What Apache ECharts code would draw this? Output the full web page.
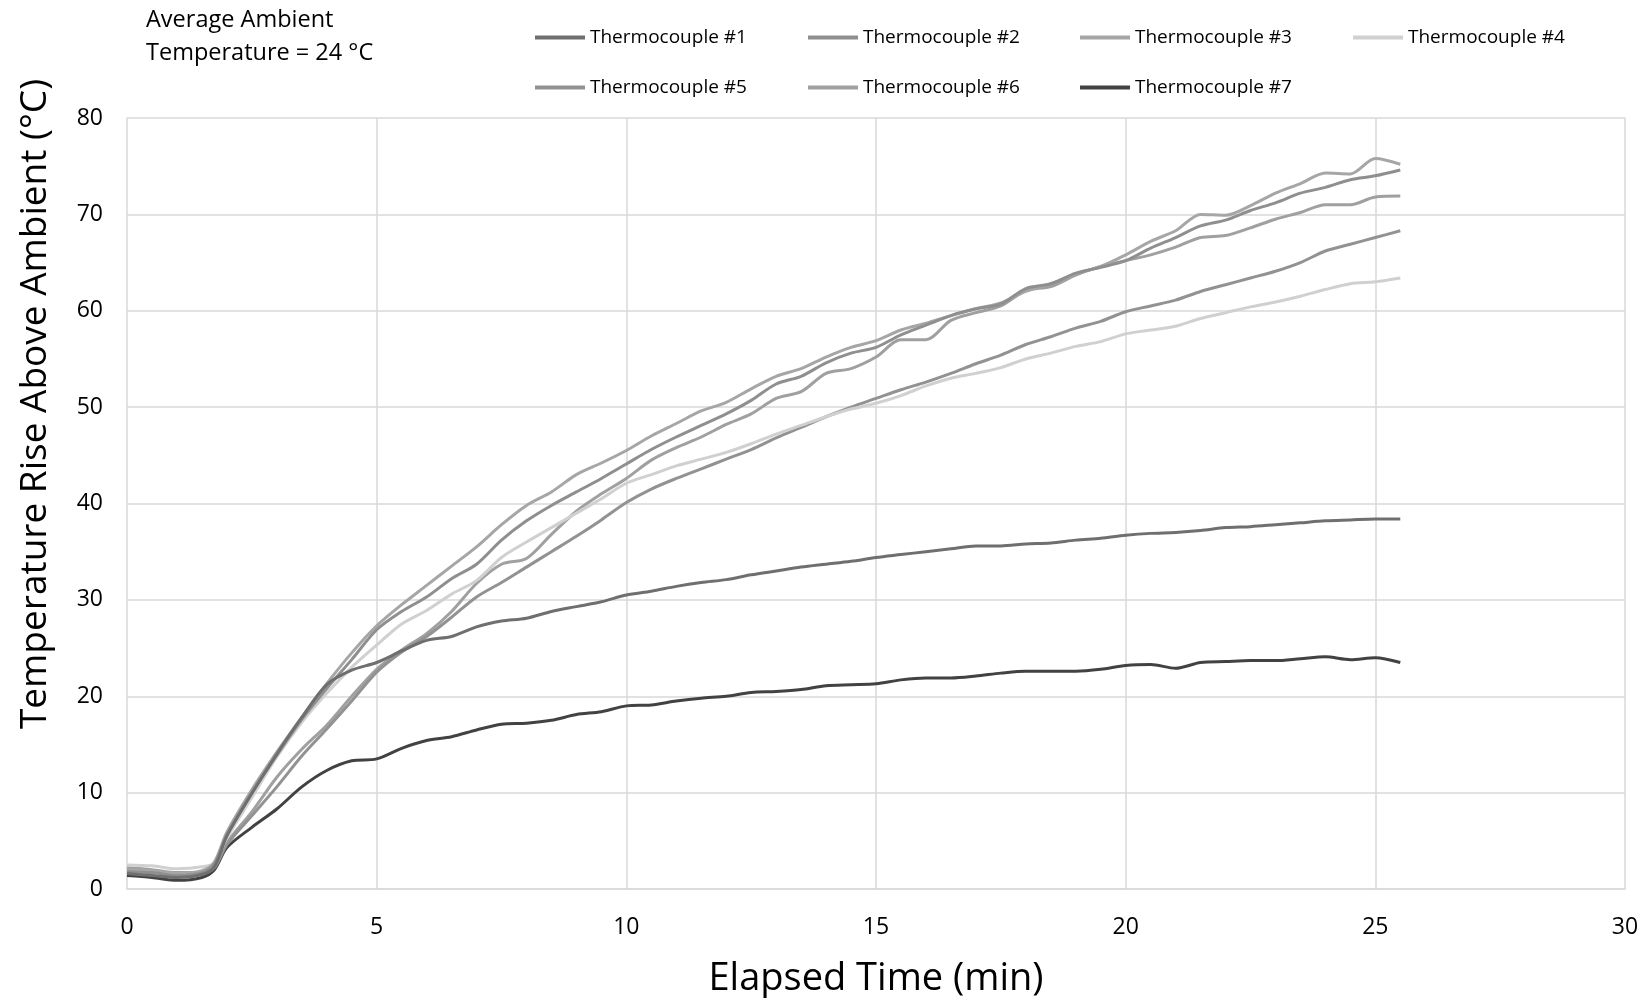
<!DOCTYPE html>
<html>
<head>
<meta charset="utf-8">
<title>Temperature rise</title>
<script src="https://cdn.jsdelivr.net/npm/echarts@6/dist/echarts.min.js"></script>
<style>
html, body { margin: 0; padding: 0; background: #fff; }
#main { width: 1647px; height: 998px; }
</style>
</head>
<body>
<div id="main"></div>
<script>
// elapsed time (min)
var times = [0, 0.5, 1, 1.5, 1.75, 2, 2.5, 3, 3.5, 4, 4.5, 5, 5.5, 6, 6.5, 7, 7.5, 8, 8.5, 9, 9.5, 10,
	10.5, 11, 11.5, 12, 12.5, 13, 13.5, 14, 14.5, 15, 15.5, 16, 16.5, 17, 17.5, 18, 18.5, 19, 19.5, 20,
	20.5, 21, 21.5, 22, 22.5, 23, 23.5, 24, 24.5, 25, 25.5];

// temperature rise above ambient (°C)
var tc1 = [1.6, 1.4, 1.2, 1.5, 2.3, 5.5, 9.9, 14.0, 17.8, 21.2, 22.7, 23.5, 24.7, 25.8, 26.2, 27.2, 27.8, 28.1, 28.8, 29.3, 29.8, 30.5,
	30.9, 31.4, 31.8, 32.1, 32.6, 33.0, 33.4, 33.7, 34.0, 34.4, 34.7, 35.0, 35.3, 35.6, 35.6, 35.8, 35.9, 36.2, 36.4, 36.7,
	36.9, 37.0, 37.2, 37.5, 37.6, 37.8, 38.0, 38.2, 38.3, 38.4, 38.4];
var tc2 = [1.8, 1.7, 1.4, 1.7, 2.6, 5.6, 10.0, 13.9, 17.6, 20.8, 23.8, 26.9, 28.8, 30.3, 32.2, 33.7, 36.2, 38.2, 39.8, 41.2, 42.6, 44.1,
	45.6, 46.9, 48.1, 49.3, 50.7, 52.4, 53.2, 54.6, 55.6, 56.2, 57.5, 58.5, 59.5, 60.2, 60.7, 62.3, 62.8, 63.9, 64.5, 65.2,
	66.5, 67.6, 68.8, 69.4, 70.4, 71.2, 72.2, 72.8, 73.6, 74.0, 74.6];
var tc3 = [2.0, 1.9, 1.6, 1.9, 2.8, 5.9, 10.3, 14.2, 17.8, 21.3, 24.5, 27.3, 29.5, 31.5, 33.5, 35.5, 37.8, 39.8, 41.2, 43.0, 44.2, 45.5,
	47.0, 48.3, 49.6, 50.5, 51.9, 53.2, 54.0, 55.2, 56.2, 56.9, 58.0, 58.7, 59.5, 60.2, 60.8, 62.0, 62.8, 63.8, 64.6, 65.8,
	67.2, 68.3, 70.0, 69.9, 70.9, 72.2, 73.2, 74.3, 74.2, 75.8, 75.2];
var tc4 = [2.5, 2.4, 2.1, 2.3, 2.7, 5.3, 9.5, 13.7, 17.3, 20.3, 23.0, 25.3, 27.5, 28.9, 30.6, 32.0, 34.4, 36.0, 37.5, 39.0, 40.5, 42.1,
	43.0, 43.9, 44.6, 45.3, 46.2, 47.2, 48.1, 49.0, 49.8, 50.4, 51.2, 52.2, 53.0, 53.5, 54.1, 55.0, 55.6, 56.3, 56.8, 57.6,
	58.0, 58.4, 59.2, 59.8, 60.4, 60.9, 61.5, 62.2, 62.8, 63.0, 63.4];
var tc5 = [1.9, 1.8, 1.5, 1.6, 2.2, 4.6, 7.6, 10.6, 13.8, 16.6, 19.5, 22.5, 24.6, 26.2, 28.2, 30.3, 31.8, 33.4, 35.0, 36.6, 38.3, 40.1,
	41.5, 42.6, 43.6, 44.6, 45.6, 46.8, 47.9, 49.0, 50.0, 50.9, 51.8, 52.6, 53.5, 54.5, 55.4, 56.5, 57.3, 58.2, 58.9, 59.9,
	60.5, 61.1, 62.0, 62.7, 63.4, 64.1, 65.0, 66.2, 66.9, 67.6, 68.3];
var tc6 = [2.2, 2.0, 1.7, 1.8, 2.3, 4.8, 8.0, 11.6, 14.5, 17.0, 20.0, 22.8, 24.8, 26.5, 28.8, 31.7, 33.7, 34.3, 36.8, 39.2, 41.0, 42.6,
	44.5, 45.8, 46.9, 48.2, 49.3, 50.9, 51.6, 53.5, 54.0, 55.2, 57.0, 57.0, 59.0, 59.8, 60.5, 62.1, 62.5, 63.7, 64.6, 65.2,
	65.8, 66.6, 67.6, 67.8, 68.6, 69.5, 70.2, 71.0, 71.0, 71.8, 71.9];
var tc7 = [1.4, 1.2, 0.9, 1.2, 2.0, 4.3, 6.4, 8.3, 10.6, 12.3, 13.3, 13.5, 14.6, 15.4, 15.8, 16.5, 17.1, 17.2, 17.5, 18.1, 18.4, 19.0,
	19.1, 19.5, 19.8, 20.0, 20.4, 20.5, 20.7, 21.1, 21.2, 21.3, 21.7, 21.9, 21.9, 22.1, 22.4, 22.6, 22.6, 22.6, 22.8, 23.2,
	23.3, 22.9, 23.5, 23.6, 23.7, 23.7, 23.9, 24.1, 23.8, 24.0, 23.5];

var names = ["Thermocouple #1", "Thermocouple #2", "Thermocouple #3", "Thermocouple #4",
	"Thermocouple #5", "Thermocouple #6", "Thermocouple #7"];
var values = [tc1, tc2, tc3, tc4, tc5, tc6, tc7];
var colors = ["#6f6f6f", "#8f8f8f", "#a6a6a6", "#d0d0d0", "#929292", "#a0a0a0", "#424242"];

var FONT = "Open Sans";

function pairs(arr){
	return times.map(function(t, i){ return [t, arr[i]]; });
}

function buildSeries(){
	var list = [];
	for (var i = 0; i < names.length; i++) {
		list.push({
			name: names[i],
			type: "line",
			data: pairs(values[i]),
			symbol: "none",
			smooth: 0.3,
			lineStyle: { color: colors[i], width: 3 },
			itemStyle: { color: colors[i] },
			z: 10 - i
		});
	}
	return list;
}

// one legend per item so each sits in its own column
function buildLegends(){
	var lefts = [535, 808, 1080, 1353, 535, 808, 1080];
	var tops = [28, 28, 28, 28, 78, 78, 78];
	return names.map(function(n, i){
		return {
			data: [n],
			left: lefts[i],
			top: tops[i],
			icon: "rect",
			itemWidth: 50,
			itemHeight: 4,
			itemGap: 0,
			padding: 0,
			textStyle: { fontFamily: FONT, fontSize: 19, color: "#000" }
		};
	});
}

function init(){
	var chart = echarts.init(document.getElementById("main"), null, { renderer: "canvas" });
	var option = {
		animation: false,
		backgroundColor: "#fff",
		grid: { left: 127, right: 22, top: 118, bottom: 109, containLabel: false, outerBoundsMode: "none" },
		legend: buildLegends(),
		xAxis: {
			type: "value",
			min: 0,
			max: 30,
			interval: 5,
			name: "Elapsed Time (min)",
			nameLocation: "middle",
			nameGap: 71,
			nameTextStyle: { fontFamily: FONT, fontSize: 38, color: "#000" },
			axisLine: { show: true, lineStyle: { color: "#d9d9d9", width: 1.5 } },
			axisTick: { show: false },
			axisLabel: { fontFamily: FONT, fontSize: 23, color: "#000", margin: 27 },
			splitLine: { show: true, lineStyle: { color: "#d9d9d9", width: 1.5 } }
		},
		yAxis: {
			type: "value",
			min: 0,
			max: 80,
			interval: 10,
			axisLine: { show: false },
			axisTick: { show: false },
			axisLabel: { fontFamily: FONT, fontSize: 23, color: "#000", margin: 24 },
			splitLine: { show: true, lineStyle: { color: "#d9d9d9", width: 1.5 } }
		},
		graphic: [
			{
				type: "text",
				x: 35,
				y: 404,
				rotation: Math.PI / 2,
				style: {
					text: "Temperature Rise Above Ambient (°C)",
					fontFamily: FONT,
					fontSize: 37,
					fill: "#000",
					align: "center",
					verticalAlign: "middle"
				}
			},
			{
				type: "text",
				left: 146,
				top: 4,
				style: {
					text: "Average Ambient\nTemperature = 24 °C",
					fontFamily: FONT,
					fontSize: 23.5,
					lineHeight: 33,
					fill: "#000"
				}
			}
		],
		series: buildSeries()
	};
	chart.setOption(option);
}
init();
</script>
</body>
</html>
